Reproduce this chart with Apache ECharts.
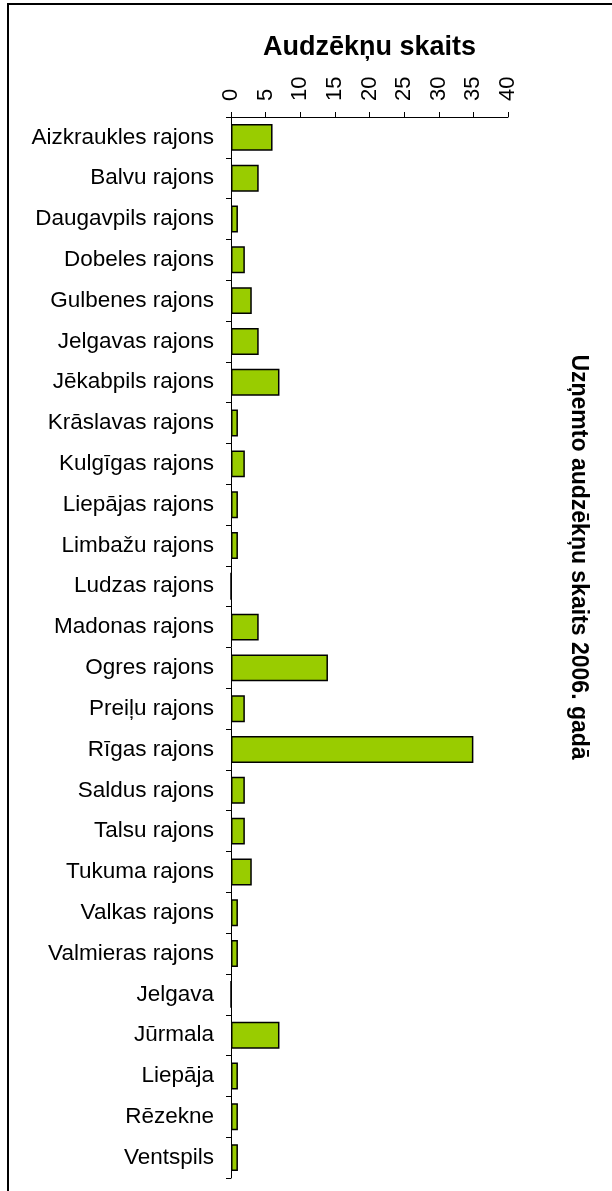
<!DOCTYPE html>
<html>
<head>
<meta charset="utf-8">
<script src="https://cdn.jsdelivr.net/npm/echarts@6/dist/echarts.min.js"></script>
<style>
  html, body { margin: 0; padding: 0; background: #fff; }
  #chart { width: 612px; height: 1191px; }
</style>
</head>
<body>
<div id="chart"></div>
<script>
const districts = [
  'Aizkraukles rajons', 'Balvu rajons', 'Daugavpils rajons', 'Dobeles rajons',
  'Gulbenes rajons', 'Jelgavas rajons', 'Jēkabpils rajons', 'Krāslavas rajons',
  'Kulgīgas rajons', 'Liepājas rajons', 'Limbažu rajons', 'Ludzas rajons',
  'Madonas rajons', 'Ogres rajons', 'Preiļu rajons', 'Rīgas rajons',
  'Saldus rajons', 'Talsu rajons', 'Tukuma rajons', 'Valkas rajons',
  'Valmieras rajons', 'Jelgava', 'Jūrmala', 'Liepāja', 'Rēzekne', 'Ventspils'
]
const students = [6, 4, 1, 2, 3, 4, 7, 1, 2, 1, 1, 0, 4, 14, 2, 35, 2, 2, 3, 1, 1, 0, 7, 1, 1, 1]
const xTicks = [0, 5, 10, 15, 20, 25, 30, 35, 40]

const font = '"Liberation Sans", Arial, sans-serif'
const chart = echarts.init(document.getElementById('chart'))

chart.setOption({
  animation: false,
  grid: { left: 231, right: 104, top: 117, bottom: 13, containLabel: false },
  xAxis: {
    type: 'value',
    position: 'top',
    min: xTicks[0],
    max: xTicks[xTicks.length - 1],
    interval: 5,
    name: 'Audzēkņu skaits',
    nameLocation: 'middle',
    nameGap: 56,
    nameTextStyle: { fontFamily: font, fontSize: 27, fontWeight: 'bold', color: '#000' },
    axisLine: { show: true, lineStyle: { color: '#000', width: 1 } },
    axisTick: { show: true, inside: false, length: 5, lineStyle: { color: '#000' } },
    axisLabel: { rotate: -90, margin: 16, fontFamily: font, fontSize: 22, color: '#000' },
    splitLine: { show: false }
  },
  yAxis: {
    type: 'category',
    data: districts,
    inverse: true,
    axisLine: { show: true, lineStyle: { color: '#000', width: 1 } },
    axisTick: { show: true, length: 5, lineStyle: { color: '#000' } },
    axisLabel: { margin: 17, fontFamily: font, fontSize: 22.5, color: '#000' }
  },
  series: [{
    type: 'bar',
    data: students,
    barCategoryGap: '34%',
    itemStyle: { color: '#99cc00', borderColor: '#000', borderWidth: 1.5 }
  }],
  graphic: [
    {
      type: 'rect',
      shape: { x: 8, y: 4, width: 640, height: 1220 },
      style: { fill: 'none', stroke: '#000', lineWidth: 2 },
      silent: true
    },
    {
      type: 'text',
      x: 578,
      y: 557,
      rotation: -Math.PI / 2,
      style: {
        text: 'Uzņemto audzēkņu skaits 2006. gadā',
        fontFamily: font,
        fontSize: 23,
        fontWeight: 'bold',
        fill: '#000',
        align: 'center',
        verticalAlign: 'middle'
      }
    }
  ]
})
</script>
</body>
</html>
